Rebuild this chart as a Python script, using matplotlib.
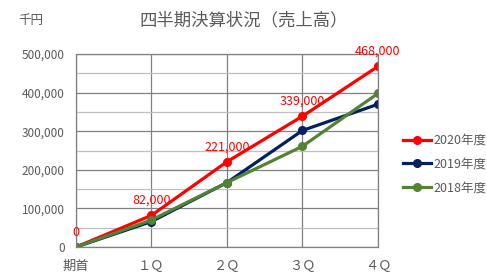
import matplotlib.pyplot as plt
import numpy as np

plt.rcParams['font.family'] = ['Noto Sans CJK JP', 'DejaVu Sans']

# データ
quarters = ["期首", "１Ｑ", "２Ｑ", "３Ｑ", "４Ｑ"]
sales_2020 = [0, 82000, 221000, 339000, 468000]
sales_2019 = [0, 66000, 167000, 302000, 370000]
sales_2018 = [0, 70000, 167000, 261000, 398000]
series_names = ["2020年度", "2019年度", "2018年度"]
colors = ["#FF0000", "#002060", "#548235"]

gray = "#595959"

fig = plt.figure(figsize=(4.87, 2.76), dpi=100)
ax = fig.add_axes([0.156, 0.105, 0.62, 0.699])

x = np.arange(len(quarters))
lines = []
for vals, name, c in zip([sales_2020, sales_2019, sales_2018], series_names, colors):
    ln, = ax.plot(x, vals, color=c, lw=2.3, marker="o", ms=5.5, label=name)
    lines.append(ln)

# データラベル (2020年度)
for xi, v in zip(x, sales_2020):
    ax.annotate(f"{v:,}", (xi, v), xytext=(0, 6), textcoords="offset points",
                ha="center", va="bottom", color="#FF0000", fontsize=9)

ax.set_xlim(0, 4)
ax.set_ylim(0, 500000)
ax.set_xticks(x)
ax.set_xticklabels(quarters)
ax.set_yticks(np.arange(0, 500001, 100000))
ax.set_yticklabels([f"{v:,}" for v in range(0, 500001, 100000)])
ax.set_yticks(np.arange(50000, 500000, 100000), minor=True)

ax.grid(axis="y", which="major", color="#808080", lw=0.9)
ax.grid(axis="y", which="minor", color="#BFBFBF", lw=0.9)
ax.grid(axis="x", which="major", color="#808080", lw=0.9)
ax.set_axisbelow(True)
for s in ax.spines.values():
    s.set_color("#808080")
    s.set_linewidth(0.9)

ax.tick_params(axis="both", which="both", length=0, colors=gray, labelsize=8.5)
ax.tick_params(axis="x", pad=9, labelsize=9.5)
ax.tick_params(axis="y", pad=8)

fig.text(0.5, 0.925, "四半期決算状況（売上高）", ha="center", va="center",
         fontsize=12.5, color=gray)
fig.text(0.064, 0.925, "千円", ha="center", va="center", fontsize=9, color=gray)

fig.legend(handles=lines, loc="upper left", bbox_to_anchor=(0.805, 0.555),
           frameon=False, fontsize=9, labelcolor=gray, handlelength=2.2,
           handletextpad=0.2, labelspacing=0.85)

fig.savefig("out.png", dpi=100)
